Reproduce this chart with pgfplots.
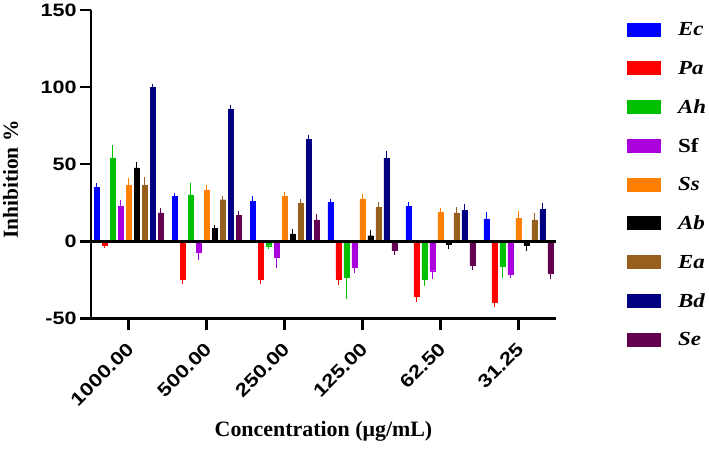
\documentclass[border=0pt]{standalone}
\usepackage{fontspec}
\setmainfont{Liberation Serif}
\newfontfamily\ticksans[FakeStretch=1.2]{Liberation Sans}
\newfontfamily\legserif[FakeStretch=1.15]{Liberation Serif}
\usepackage{pgfplots}
\pgfplotsset{compat=1.18}

\definecolor{cEc}{RGB}{0,0,255}
\definecolor{cPa}{RGB}{255,0,0}
\definecolor{cAh}{RGB}{0,192,0}
\definecolor{cSf}{RGB}{170,0,220}
\definecolor{cSs}{RGB}{255,128,0}
\definecolor{cAb}{RGB}{0,0,0}
\definecolor{cEa}{RGB}{150,95,30}
\definecolor{cBd}{RGB}{0,0,128}
\definecolor{cSe}{RGB}{100,0,80}

\pgfplotsset{
  barstyle/.style={fill=#1, draw=#1, line width=0.3bp,
    error bars/y dir=both, error bars/y explicit,
    error bars/error mark=-,
    error bars/error bar style={#1, line width=0.9bp},
    error bars/error mark options={#1, line width=0.9bp, mark size=2.2bp},
    legend image code/.code={\fill[#1] (0bp,-6.5bp) rectangle (33bp,6.5bp);
      \path[draw=none, fill=none] (0bp,0bp) -- (51bp,0bp);}
  }
}

\begin{document}
\begin{tikzpicture}
\path[use as bounding box] (0,0) rectangle (709bp,453bp);
\begin{axis}[
  at={(91bp,134.5bp)}, anchor=south west,
  scale only axis, width=465bp, height=308.5bp,
  xmin=-0.484, xmax=5.48, ymin=-50, ymax=150,
  axis lines*=left,
  axis line style={line width=2.5bp},
  ybar=2.7bp, bar width=5.3bp,
  xtick={0,1,2,3,4,5},
  xticklabels={1000.00,500.00,250.00,125.00,62.50,31.25},
  ytick={-50,0,50,100,150},
  tick align=outside, major tick length=11bp,
  tick style={line width=2.5bp, black},
  /pgf/number format/assume math mode=true,
  yticklabel style={font=\ticksans\bfseries\fontsize{18}{18}\selectfont},
  xticklabel style={font=\ticksans\bfseries\fontsize{18.5}{18.5}\selectfont,
    xshift=4bp, yshift=-14bp, rotate=45, anchor=east},
  xlabel={Concentration (μg/mL)},
  xlabel style={font=\bfseries\fontsize{22}{24}\selectfont, at={(axis description cs:0.5,-0.384)}, anchor=base},
  ylabel={Inhibition \%},
  ylabel style={font=\bfseries\fontsize{21.5}{24}\selectfont, at={(axis description cs:-0.157,0.45)}, anchor=base},
  legend cell align=left,
  legend style={draw=none, fill=none, at={(axis description cs:1.1527,1.0003)}, anchor=north west,
    inner sep=0pt, outer sep=0pt, row sep=0pt, column sep=0pt,
    nodes={inner sep=0pt, text depth=0pt, minimum height=38.75bp,
      font=\legserif\bfseries\itshape\fontsize{20}{20}\selectfont}},
]
% Ec
\addplot[barstyle=cEc] table[x=x, y=y, y error plus=ep, y error minus=em] {
x y ep em
0 35.0 1.3 0
1 29.0 1.0 0
2 26.0 1.7 0
3 25.5 0.8 0
4 22.7 1.5 0
5 14.6 3.0 0
};
\addlegendentry{Ec}
% Pa
\addplot[barstyle=cPa] table[x=x, y=y, y error plus=ep, y error minus=em] {
x y ep em
0 -2.3 0 0.5
1 -24.7 0 1.2
2 -24.7 0 1.2
3 -24.7 0 2.2
4 -35.4 0 2.2
5 -39.3 0 1.5
};
\addlegendentry{Pa}
% Ah
\addplot[barstyle=cAh] table[x=x, y=y, y error plus=ep, y error minus=em] {
x y ep em
0 54.1 7.0 0
1 30.2 6.5 0
2 -2.8 0 1.0
3 -23.5 0 12.3
4 -24.7 0 2.7
5 -16.3 0 6.0
};
\addlegendentry{Ah}
% Sf
\addplot[barstyle=cSf] table[x=x, y=y, y error plus=ep, y error minus=em] {
x y ep em
0 22.7 2.6 0
1 -7.2 0 3.4
2 -10.3 0 5.6
3 -17.0 0 2.0
4 -19.0 0 3.8
5 -21.0 0 1.2
};
\addlegendentry{\upshape Sf}
% Ss
\addplot[barstyle=cSs] table[x=x, y=y, y error plus=ep, y error minus=em] {
x y ep em
0 36.2 3.4 0
1 33.4 1.8 0
2 29.0 1.5 0
3 27.6 1.9 0
4 18.8 1.5 0
5 15.0 3.5 0
};
\addlegendentry{Ss}
% Ab
\addplot[barstyle=cAb] table[x=x, y=y, y error plus=ep, y error minus=em] {
x y ep em
0 47.6 2.4 0
1 8.3 1.0 0
2 4.9 2.0 0
3 3.7 2.2 0
4 -1.9 0 1.5
5 -2.4 0 2.6
};
\addlegendentry{Ab}
% Ea
\addplot[barstyle=cEa] table[x=x, y=y, y error plus=ep, y error minus=em] {
x y ep em
0 36.4 4.0 0
1 27.0 1.3 0
2 24.7 1.5 0
3 21.9 2.0 0
4 18.4 2.6 0
5 14.0 3.0 0
};
\addlegendentry{Ea}
% Bd
\addplot[barstyle=cBd] table[x=x, y=y, y error plus=ep, y error minus=em] {
x y ep em
0 99.8 0.6 0
1 85.7 1.5 0
2 66.2 1.5 0
3 54.0 3.0 0
4 20.0 3.0 0
5 20.6 2.6 0
};
\addlegendentry{Bd}
% Se
\addplot[barstyle=cSe] table[x=x, y=y, y error plus=ep, y error minus=em] {
x y ep em
0 18.4 1.5 0
1 17.0 1.3 0
2 14.0 2.0 0
3 -6.0 0 1.5
4 -15.5 0 1.5
5 -20.7 0 2.0
};
\addlegendentry{Se}
% zero baseline across the plot
\draw[line width=2.5bp] ({rel axis cs:0,0}|-{axis cs:0,0}) -- ({rel axis cs:1,0}|-{axis cs:0,0});
\end{axis}
\end{tikzpicture}
\end{document}
